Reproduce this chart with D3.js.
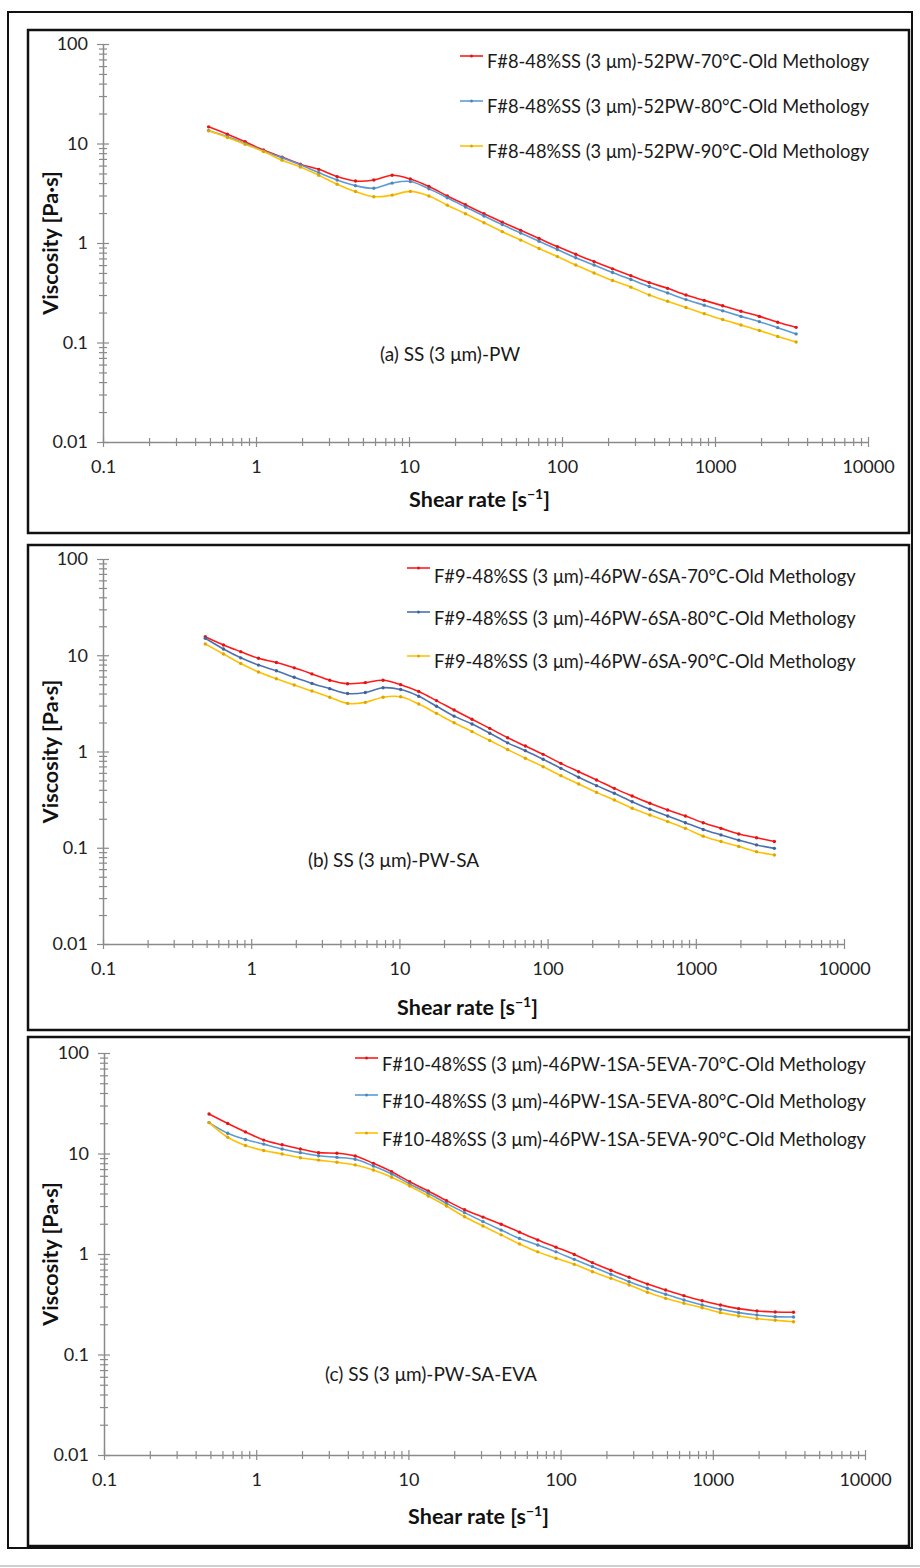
<!DOCTYPE html>
<html>
<head>
<meta charset="utf-8">
<script src="https://d3js.org/d3.v7.min.js"></script>
<style>
  body { margin: 0; background: #fff; }
  svg { display: block; font-family: Lato, "Open Sans", sans-serif; }
</style>
</head>
<body>
<svg id="chart" width="920" height="1568"></svg>
<script>
// shear rate points (s^-1), shared by every run
var shearRate = [0.49, 0.65, 0.85, 1.12, 1.48, 1.95, 2.57, 3.39, 4.47, 5.89, 7.76, 10.2, 13.5, 17.8,
    23.4, 30.9, 40.7, 53.7, 70.8, 93.3, 123, 162, 214, 282, 372, 490, 646, 851, 1122, 1479, 1950, 2570, 3390];

// (a) SS-PW
var visA70 = [14.7, 12.4, 10.4, 8.6, 7.3, 6.2, 5.5, 4.65, 4.2, 4.3, 4.8, 4.4, 3.7, 2.97,
    2.42, 1.97, 1.62, 1.34, 1.11, 0.92, 0.77, 0.65, 0.55, 0.47, 0.40, 0.35, 0.30, 0.265, 0.234, 0.206, 0.183, 0.16, 0.142];
var visA80 = [13.5, 11.7, 10.0, 8.4, 7.2, 6.1, 5.1, 4.3, 3.77, 3.55, 4.0, 4.15, 3.5, 2.85,
    2.3, 1.87, 1.53, 1.26, 1.04, 0.86, 0.71, 0.6, 0.505, 0.43, 0.365, 0.315, 0.27, 0.237, 0.208, 0.183, 0.162, 0.141, 0.122];
var visA90 = [13.4, 11.5, 9.8, 8.3, 6.8, 5.8, 4.8, 3.9, 3.29, 2.92, 3.03, 3.3, 2.97, 2.4,
    1.97, 1.6, 1.3, 1.07, 0.88, 0.73, 0.6, 0.5, 0.42, 0.36, 0.3, 0.26, 0.225, 0.195, 0.17, 0.15, 0.132, 0.115, 0.101];

// (b) SS-PW-SA
var visB70 = [15.6, 12.8, 10.9, 9.3, 8.4, 7.4, 6.4, 5.5, 5.06, 5.2, 5.5, 4.95, 4.2, 3.38,
    2.7, 2.16, 1.74, 1.39, 1.14, 0.934, 0.753, 0.617, 0.506, 0.414, 0.345, 0.29, 0.247, 0.214, 0.182, 0.159, 0.139, 0.127, 0.116];
var visB80 = [15.0, 11.6, 9.4, 7.9, 6.9, 5.9, 5.1, 4.5, 4.0, 4.1, 4.6, 4.4, 3.75, 2.95,
    2.33, 1.93, 1.55, 1.23, 1.02, 0.83, 0.668, 0.54, 0.442, 0.368, 0.301, 0.251, 0.214, 0.182, 0.155, 0.136, 0.12, 0.107, 0.0986];
var visB90 = [13.1, 10.3, 8.2, 6.7, 5.7, 4.9, 4.25, 3.66, 3.16, 3.24, 3.66, 3.7, 3.11, 2.49,
    1.99, 1.61, 1.3, 1.05, 0.85, 0.695, 0.561, 0.459, 0.376, 0.313, 0.257, 0.219, 0.187, 0.159, 0.132, 0.116, 0.103, 0.091, 0.084];

// (c) SS-PW-SA-EVA
var visC70 = [24.7, 19.9, 16.4, 13.6, 12.2, 11.1, 10.2, 10.05, 9.44, 7.98, 6.59, 5.24, 4.24, 3.39,
    2.76, 2.33, 1.98, 1.65, 1.38, 1.17, 0.99, 0.82, 0.69, 0.587, 0.502, 0.438, 0.385, 0.343, 0.311, 0.286, 0.271, 0.265, 0.263];
var visC80 = [20.3, 15.9, 13.8, 12.4, 11.1, 10.2, 9.5, 9.16, 8.75, 7.5, 6.25, 4.98, 4.02, 3.19,
    2.58, 2.1, 1.73, 1.43, 1.23, 1.05, 0.885, 0.748, 0.628, 0.531, 0.456, 0.397, 0.348, 0.311, 0.282, 0.261, 0.247, 0.238, 0.236];
var visC90 = [20.3, 14.5, 12.0, 10.7, 9.9, 9.08, 8.6, 8.17, 7.7, 6.85, 5.8, 4.75, 3.78, 3.0,
    2.35, 1.9, 1.55, 1.26, 1.05, 0.906, 0.789, 0.667, 0.573, 0.492, 0.416, 0.362, 0.323, 0.292, 0.261, 0.242, 0.227, 0.219, 0.212];

var namesA = ["F#8-48%SS (3 μm)-52PW-70°C-Old Methology",
    "F#8-48%SS (3 μm)-52PW-80°C-Old Methology",
    "F#8-48%SS (3 μm)-52PW-90°C-Old Methology"];
var namesB = ["F#9-48%SS (3 μm)-46PW-6SA-70°C-Old Methology",
    "F#9-48%SS (3 μm)-46PW-6SA-80°C-Old Methology",
    "F#9-48%SS (3 μm)-46PW-6SA-90°C-Old Methology"];
var namesC = ["F#10-48%SS (3 μm)-46PW-1SA-5EVA-70°C-Old Methology",
    "F#10-48%SS (3 μm)-46PW-1SA-5EVA-80°C-Old Methology",
    "F#10-48%SS (3 μm)-46PW-1SA-5EVA-90°C-Old Methology"];
var notes = ["(a) SS (3 μm)-PW", "(b) SS (3 μm)-PW-SA", "(c) SS (3 μm)-PW-SA-EVA"];

var xTicks = [0.1, 1, 10, 100, 1000, 10000];
var xTickLabels = ["0.1", "1", "10", "100", "1000", "10000"];
var yTicks = [0.01, 0.1, 1, 10, 100];
var yTickLabels = ["0.01", "0.1", "1", "10", "100"];

var red = "#ff1a1a", blueLight = "#5b9bd5", blueDark = "#4a72b0", yellow = "#ffc000";

// layout per panel
var panels = [
    {box: [28, 30, 909, 533], x0: 103, x1: 868, y0: 44, y1: 442,
        series: [visA70, visA80, visA90], names: namesA, colors: [red, blueLight, yellow],
        legX: 460, legLineY: [56, 101, 146], legTextY: [68, 113, 158],
        note: [380, 361], titleY: 507},
    {box: [28, 545, 909, 1030], x0: 103, x1: 844, y0: 559, y1: 944,
        series: [visB70, visB80, visB90], names: namesB, colors: [red, blueDark, yellow],
        legX: 407, legLineY: [568, 612, 656], legTextY: [583, 625, 668],
        note: [308, 867], titleY: 1015},
    {box: [28, 1037, 909, 1546], x0: 104, x1: 865, y0: 1053, y1: 1455,
        series: [visC70, visC80, visC90], names: namesC, colors: [red, blueLight, yellow],
        legX: 355, legLineY: [1058, 1095, 1133], legTextY: [1071, 1108, 1146],
        note: [325, 1381], titleY: 1524}
];

var svg = d3.select("#chart");
var axisGrey = "#8a8a8a";

// light grey rule at the very bottom and the outer frame
svg.append("line").attr("x1", 0).attr("x2", 920).attr("y1", 1566).attr("y2", 1566)
    .attr("stroke", "#cfcfcf").attr("stroke-width", 2);
svg.append("rect").attr("x", 8).attr("y", 12).attr("width", 904).attr("height", 1536)
    .attr("fill", "none").attr("stroke", "#111").attr("stroke-width", 2);

function isMajor(v) {
    var l = Math.log10(v);
    return Math.abs(l - Math.round(l)) < 1e-9;
}

function labelFor(v, ticks, labels) {
    for (var i = 0; i < ticks.length; i++) {
        if (Math.abs(Math.log10(v) - Math.log10(ticks[i])) < 1e-9) return labels[i];
    }
    return "";
}

panels.forEach(function (p, k) {
    var g = svg.append("g");

    g.append("rect")
        .attr("x", p.box[0]).attr("y", p.box[1])
        .attr("width", p.box[2] - p.box[0]).attr("height", p.box[3] - p.box[1])
        .attr("fill", "#fff").attr("stroke", "#111").attr("stroke-width", 2.5);

    var x = d3.scaleLog().domain([0.1, 10000]).range([p.x0, p.x1]);
    var y = d3.scaleLog().domain([0.01, 100]).range([p.y1, p.y0]);

    // y axis
    var yAxis = g.append("g")
        .attr("transform", "translate(" + p.x0 + ",0)")
        .call(d3.axisLeft(y).tickValues(y.ticks()).tickSizeOuter(0)
            .tickFormat(function (d) { return labelFor(d, yTicks, yTickLabels); }));
    yAxis.select(".domain").attr("stroke", axisGrey).attr("stroke-width", 1.5);
    yAxis.selectAll(".tick line")
        .attr("stroke", axisGrey).attr("stroke-width", 1.2)
        .attr("x1", function (d) { return isMajor(d) ? -6 : -4; })
        .attr("x2", function (d) { return isMajor(d) ? 6 : 4; });
    yAxis.selectAll(".tick text")
        .attr("x", -15).attr("fill", "#222")
        .style("font-size", "18px").style("font-family", "Lato");

    // x axis
    var xAxis = g.append("g")
        .attr("transform", "translate(0," + p.y1 + ")")
        .call(d3.axisBottom(x).tickValues(x.ticks()).tickSizeOuter(0)
            .tickFormat(function (d) { return labelFor(d, xTicks, xTickLabels); }));
    xAxis.select(".domain").attr("stroke", axisGrey).attr("stroke-width", 1.5);
    xAxis.selectAll(".tick line")
        .attr("stroke", axisGrey).attr("stroke-width", 1.2)
        .attr("y1", function (d) { return isMajor(d) ? -5 : -4; })
        .attr("y2", function (d) { return isMajor(d) ? 5 : 4; });
    xAxis.selectAll(".tick text")
        .attr("y", 18).attr("fill", "#222")
        .style("font-size", "18px").style("font-family", "Lato");

    // series
    var line = d3.line()
        .x(function (d) { return x(d[0]); })
        .y(function (d) { return y(d[1]); })
        .curve(d3.curveCatmullRom.alpha(0.5));

    p.series.forEach(function (vals, s) {
        var pts = shearRate.map(function (r, i) { return [r, vals[i]]; });
        g.append("path").datum(pts)
            .attr("d", line)
            .attr("fill", "none")
            .attr("stroke", p.colors[s])
            .attr("stroke-width", 1.6);
        g.append("g").selectAll("circle")
            .data(pts).enter().append("circle")
            .attr("cx", function (d) { return x(d[0]); })
            .attr("cy", function (d) { return y(d[1]); })
            .attr("r", 1.7)
            .attr("fill", d3.color(p.colors[s]).darker(0.4));
    });

    // legend
    p.names.forEach(function (name, s) {
        g.append("line")
            .attr("x1", p.legX).attr("x2", p.legX + 23)
            .attr("y1", p.legLineY[s]).attr("y2", p.legLineY[s])
            .attr("stroke", p.colors[s]).attr("stroke-width", 1.6);
        g.append("circle")
            .attr("cx", p.legX + 11.5).attr("cy", p.legLineY[s]).attr("r", 1.5)
            .attr("fill", d3.color(p.colors[s]).darker(0.4));
        g.append("text")
            .attr("x", p.legX + 27).attr("y", p.legTextY[s])
            .attr("fill", "#1a1a1a")
            .style("font-size", "18.3px")
            .text(name);
    });

    // panel note
    g.append("text")
        .attr("x", p.note[0]).attr("y", p.note[1])
        .attr("fill", "#1a1a1a")
        .style("font-size", "19px")
        .text(notes[k]);

    // axis titles
    var cy = (p.y0 + p.y1) / 2;
    g.append("text")
        .attr("transform", "translate(58," + cy + ") rotate(-90)")
        .attr("text-anchor", "middle")
        .attr("fill", "#111")
        .style("font-size", "21.5px").style("font-weight", "bold")
        .text("Viscosity [Pa·s]");

    var xt = g.append("text")
        .attr("x", (p.x0 + p.x1) / 2 - 6).attr("y", p.titleY)
        .attr("text-anchor", "middle")
        .attr("fill", "#111")
        .style("font-size", "21.5px").style("font-weight", "bold");
    xt.append("tspan").text("Shear rate [s");
    xt.append("tspan").attr("dy", -8).style("font-size", "14px").text("−1");
    xt.append("tspan").attr("dy", 8).text("]");
});
</script>
</body>
</html>
